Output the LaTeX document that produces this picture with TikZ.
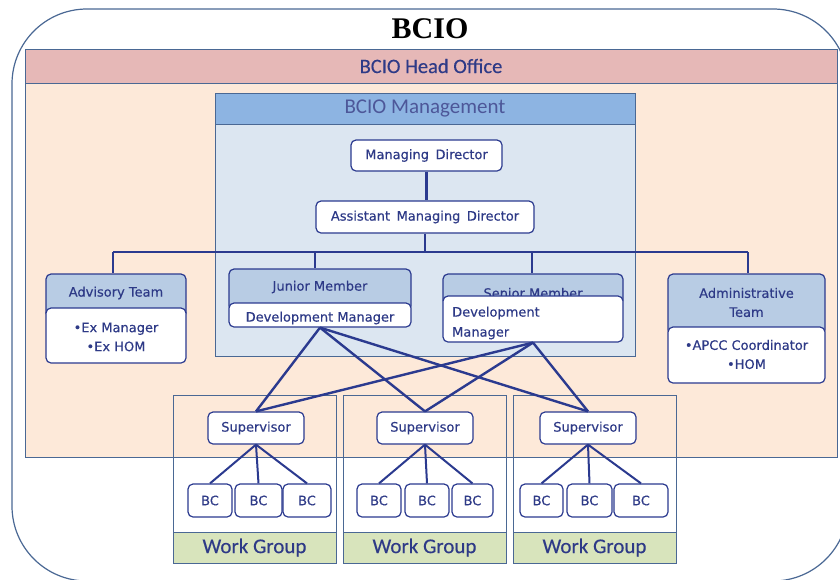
\documentclass[tikz,border=0pt]{standalone}
\usepackage{fontspec}
\setmainfont{Carlito}
\newfontfamily\boxfont[FakeBold=0.35]{DejaVu Sans}
\newfontfamily\headfont[FakeBold=0.3]{Carlito}
\newfontfamily\titlefont{Liberation Serif}
\definecolor{pinkbar}{HTML}{E6B8B7}
\definecolor{peach}{HTML}{FDE9D9}
\definecolor{mgmthead}{HTML}{8DB4E2}
\definecolor{mgmtbody}{HTML}{DCE6F1}
\definecolor{teamhead}{HTML}{B8CCE4}
\definecolor{wggreen}{HTML}{D8E4BC}
\definecolor{navy}{HTML}{2B3A8F}
\definecolor{txtblue}{HTML}{2E3A87}
\definecolor{steel}{HTML}{4A6894}
\tikzset{
  region/.style={draw=steel, line width=1pt},
  boxnode/.style={draw=navy, line width=1.2pt, rounded corners=5pt, fill=white, inner sep=0pt,
    text=txtblue, font=\boxfont\fontsize{13}{16}\selectfont},
  headnode/.style={boxnode, fill=teamhead},
  lbl/.style={text=txtblue, font=\boxfont\fontsize{13}{19}\selectfont, inner sep=0pt, align=center},
  conn/.style={draw=navy, line width=2.4pt},
  thin/.style={draw=navy, line width=2pt}
}
\begin{document}
\begin{tikzpicture}[x=1pt,y=-1pt]
\useasboundingbox (0,0) rectangle (840,579);
\clip (0,0) rectangle (840,579);
% outer frame
\draw[draw=steel, line width=1.2pt, fill=white, rounded corners=75pt] (12,9) rectangle (848,581);
\node[font=\titlefont\bfseries\fontsize{30}{32}\selectfont, inner sep=0pt] (title) at (430,29) {BCIO};
% head office
\path[region, fill=pinkbar] (25.5,49.5) rectangle (837,83);
\node[text=txtblue, font=\headfont\fontsize{20.5}{22}\selectfont, inner sep=0pt] (ho) at (431,66) {BCIO Head Office};
\path[region, fill=peach] (25.5,83) rectangle (837,457);
% management
\path[region, fill=mgmthead] (215,93) rectangle (635,124);
\path[region, fill=mgmtbody] (215,124) rectangle (635,356);
\node[text=txtblue!85!white, font=\fontsize{21}{23}\selectfont, inner sep=0pt] (mg) at (425,108.5) {BCIO Management};
% work groups
\foreach \xa/\xb in {173/336, 343/506, 513/676}{
  \path[region, fill=wggreen] (\xa,532) rectangle (\xb,563);
  \path[region] (\xa,395) rectangle (\xb,532);
  \node[text=txtblue, font=\headfont\fontsize{21}{23}\selectfont, inner sep=0pt] at ({(\xa+\xb)/2},547.5) {Work Group};
}
% top nodes
\node[boxnode, minimum width=151pt, minimum height=31pt] (md) at (426.5,155.5) {Managing\hspace{0.5em}Director};
\node[boxnode, minimum width=218pt, minimum height=32pt] (amd) at (425,217) {Assistant\hspace{0.5em}Managing\hspace{0.5em}Director};
% teams
\node[headnode, minimum width=140pt, minimum height=44pt] (advh) at (116,296) {};
\node[lbl] (advt) at (116,293) {Advisory Team};
\node[boxnode, minimum width=140pt, minimum height=55pt] (advb) at (116,335.5) {};
\node[lbl] (advl) at (116,337) {•Ex Manager\\•Ex HOM};

\node[headnode, minimum width=182pt, minimum height=42pt] (junh) at (320,290) {};
\node[lbl] (junt) at (320,287) {Junior Member};
\node[boxnode, minimum width=182pt, minimum height=24pt] (junb) at (320,315) {};
\node[lbl] (junl) at (320,318) {Development Manager};

\node[headnode, minimum width=180pt, minimum height=31pt] (senh) at (533,289.5) {};
\node[lbl] (sent) at (533,293) {Senior Member};
\node[boxnode, minimum width=180pt, minimum height=46pt] (senb) at (533,319) {};
\node[lbl, anchor=west, align=left, font=\boxfont\fontsize{13}{20}\selectfont] (senl) at (452,323) {Development\\Manager};

\node[headnode, minimum width=157pt, minimum height=61pt] (admh) at (746.5,304.5) {};
\node[lbl] (admt) at (746.5,302.5) {Administrative\\Team};
\node[boxnode, minimum width=157pt, minimum height=56pt] (admb) at (746.5,355) {};
\node[lbl] (adml) at (746.5,354.5) {•APCC Coordinator\\•HOM};
% supervisors and BCs
\node[boxnode, minimum width=96pt, minimum height=32pt] (sup1) at (256,428) {Supervisor};
\node[boxnode, minimum width=96pt, minimum height=32pt] (sup2) at (425,428) {Supervisor};
\node[boxnode, minimum width=96pt, minimum height=32pt] (sup3) at (588,428) {Supervisor};
\foreach \n/\cx/\w in {11/210/44, 12/258.5/47, 13/307/48, 21/379/44, 22/427/44, 23/472.5/41, 31/541.5/43, 32/589.5/45, 33/641/54}{
  \node[boxnode, minimum width=\w pt, minimum height=33pt] (bc\n) at (\cx,500.5) {BC};
}
% connectors
\coordinate (busL) at (113,252);
\coordinate (busR) at (748,252);
\coordinate (busJ) at (315,252);
\coordinate (busS) at (532,252);
\draw[conn] (busL) -- (busR);
\draw[conn] (md.south) -- (md.south |- amd.north);
\draw[conn] (amd.south) -- (amd.south |- busL);
\draw[conn] (busL) -- (busL |- advh.north);
\draw[conn] (busR) -- (busR |- admh.north);
\draw[conn] (busJ) -- (busJ |- junh.north);
\draw[conn] (busS) -- (busS |- senh.north);
\foreach \s in {1,2,3}{
  \draw[conn] (junb.south) -- (sup\s.north);
  \draw[conn] (senb.south) -- (sup\s.north);
  \foreach \b in {1,2,3}{
    \draw[thin] (sup\s.south) -- (bc\s\b.north);
  }
}
\end{tikzpicture}
\end{document}
